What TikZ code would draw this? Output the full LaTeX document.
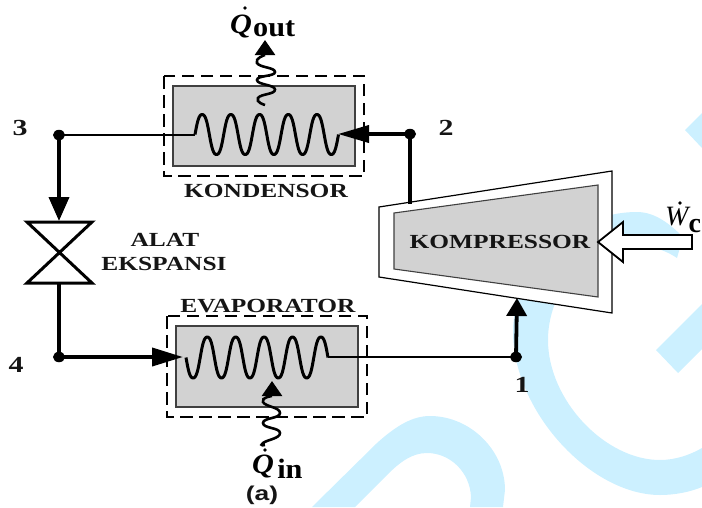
\documentclass[tikz,border=0pt]{standalone}
\usepackage{fontspec}
\setmainfont{Liberation Serif}
\newfontfamily\sansb{Liberation Sans}
\usetikzlibrary{arrows.meta,shapes.geometric}
\definecolor{wm}{HTML}{CCF0FF}
\definecolor{gbox}{HTML}{D2D2D2}
\definecolor{ink}{HTML}{151515}
\tikzset{
  wmark/.style={fill=wm,draw=none},
  dashbox/.style={draw=black,line width=1.6pt,dash pattern=on 12.5pt off 6.5pt},
  graybox/.style={draw=black!75,line width=1.1pt,fill=gbox},
  dotnode/.style={ellipse,fill=black,inner sep=0pt,minimum width=12pt,minimum height=10.5pt},
  accentdot/.style={circle,fill=black,inner sep=0pt,minimum size=3.8pt},
  pipe/.style={draw=black,line width=2.9pt},
  fatpipe/.style={draw=black,line width=3.8pt},
  coilline/.style={draw=black,line width=3pt,line join=round},
  wavy/.style={draw=black,line width=2.6pt},
  lab/.style={text=ink,font=\bfseries\fontsize{20}{22}\selectfont,inner sep=0pt,xscale=1.27},
  num/.style={text=ink,font=\bfseries\fontsize{23}{24}\selectfont,inner sep=0pt,xscale=1.3},
  heat/.style={text=black,font=\fontsize{28}{30}\selectfont,inner sep=0pt,anchor=base west},
}
\newcommand{\subb}[2]{\raisebox{#1}{\fontsize{28}{28}\selectfont\bfseries #2}}
\begin{document}
\begin{tikzpicture}[x=1pt,y=-1pt]
\useasboundingbox (0,0) rectangle (702,507);
\begin{scope}
\clip (0,0) rectangle (702,507);
% watermark
\fill[wmark] (685,130) -- (702,113) -- (702,148) -- cycle;
\fill[wmark] (656,350) -- (702,304) -- (702,349) -- (678,373) -- cycle;
\fill[wmark] (312,507) -- (377,443) .. controls (397,425) and (413,416) .. (430,416)
  .. controls (470,416) and (505,450) .. (505,490) -- (503,507) -- (470,507) -- (471,497)
  .. controls (470,472) and (450,453) .. (427,453) .. controls (412,453) and (400,462) .. (387,475)
  -- (355,507) -- cycle;
\fill[wmark] (683,237) -- (677,258) .. controls (668,252) and (655,246) .. (640,246)
  .. controls (580,246) and (548,295) .. (548,340) .. controls (548,400) and (605,460) .. (660,460)
  .. controls (675,460) and (690,455) .. (702,448) -- (702,487) .. controls (690,492) and (675,495) .. (660,495)
  .. controls (590,495) and (512,410) .. (513,330) .. controls (514,270) and (570,212) .. (637,212)
  .. controls (655,212) and (670,224) .. (683,237) -- cycle;
\end{scope}

% compressor
\coordinate (compTop) at (410,204);
\coordinate (compBot) at (517,298);
\draw[draw=black,line width=1.2pt,fill=white] (379,207) -- (612,171) -- (612,313) -- (379,277) -- cycle;
\draw[graybox] (394,213) -- (598,185) -- (598,297) -- (394,269) -- cycle;
\node[lab] (kompressor) at (500,242) {KOMPRESSOR};

% condenser
\draw[dashbox] (164,76) rectangle (364,176);
\draw[graybox] (173,86) rectangle (355,166);
\node[lab] (kondensor) at (266,191) {KONDENSOR};
\draw[coilline] plot[smooth,domain=195:338.5,samples=141] ({\x},{134.5-21.3*(sin((\x-195)/28.7*360)+0.06*sin((\x-195)/28.7*1080))});

% evaporator
\draw[dashbox] (167,316) rectangle (367,417);
\draw[graybox] (176,326) rectangle (358,407);
\node[lab] (evaporator) at (268,306) {EVAPORATOR};
\draw[coilline] plot[smooth,domain=186:328,samples=141] ({\x},{357.5+21.8*(sin((\x-186)/28.4*360)+0.06*sin((\x-186)/28.4*1080))});

% state points
\node[dotnode] (d2) at (410,134) {};
\node[dotnode] (d3) at (59,135) {};
\node[dotnode] (d4) at (59,357) {};
\node[dotnode] (d1) at (516,357) {};
\coordinate (condIn) at (338,134);
\coordinate (condOut) at (195,135);
\coordinate (evapIn) at (183,357);
\coordinate (evapOut) at (328,357);
\coordinate (valveIn) at (59,221);
\coordinate (valveOut) at (59,283);

% valve
\draw[draw=black,line width=3pt,line join=miter] (27,222) -- (92,222) -- (27,283) -- (92,283) -- cycle;

% connectors
\draw[pipe] (d3.center) -- (condOut);
\draw[fatpipe,-{Triangle[length=24pt,width=20pt]}] (d3.center) -- (valveIn);
\draw[fatpipe] (valveOut) -- (d4.center);
\draw[fatpipe,-{Triangle[length=31pt,width=18pt]}] (d4.center) -- (evapIn);
\draw[pipe] (evapOut) -- (d1.center);
\draw[fatpipe,-{Triangle[length=18pt,width=20pt]}] (d1.center) -- (compBot);
\draw[fatpipe,line width=3.2pt] (compTop) -- (d2.center);
\draw[fatpipe,-{Triangle[length=31pt,width=17pt]}] (d2.center) -- (condIn);

% heat flows
\coordinate (qoutBase) at (265,55);
\coordinate (qoutTip) at (265,40);
\draw[wavy] plot[smooth,tension=1] coordinates {(265,105) (258,98) (275,89.5) (257,80) (275,72) (257,63) (265,55)};
\draw[draw=black,line width=2.6pt,-{Triangle[length=15pt,width=20pt]}] (qoutBase) -- (qoutTip);
\coordinate (qinBase) at (272,396);
\coordinate (qinTip) at (272,381);
\draw[wavy] plot[smooth,tension=1] coordinates {(265,445) (263,443) (280,433) (263,423) (280,413) (263,402) (272,396)};
\draw[draw=black,line width=2.6pt,-{Triangle[length=15pt,width=20pt]}] (qinBase) -- (qinTip);

% work arrow
\draw[draw=black,line width=1.8pt,fill=white,line join=miter] (598,242) -- (623,222) -- (623,235) -- (692,235) -- (692,249) -- (623,249) -- (623,262) -- cycle;

% labels
\node[heat,xscale=1.08] (qout) at (230,33) {{\bfseries\itshape Q}\hspace{1pt}\subb{-3.5pt}{out}};
\node[accentdot] (qoutdot) at (245,8) {};
\node[heat,xscale=1.08] (qin) at (252,473) {{\bfseries\itshape Q}\hspace{3pt}\subb{-5pt}{in}};
\node[accentdot] (qindot) at (265,450) {};
\node[heat] (wc) at (665,225) {{\itshape W}\subb{-7pt}{c}};
\node[accentdot] (wdot) at (680,203) {};
\node[num] (n2) at (446,128) {2};
\node[num] (n3) at (20,128) {3};
\node[num] (n4) at (16,365) {4};
\node[num] (n1) at (522,385) {1};
\node[lab] (alat) at (165,240) {ALAT};
\node[lab] (ekspansi) at (164,264) {EKSPANSI};
\node[lab,font=\sansb\bfseries\fontsize{20}{22}\selectfont,xscale=1.04] (a) at (262,495) {(a)};
\end{tikzpicture}
\end{document}
